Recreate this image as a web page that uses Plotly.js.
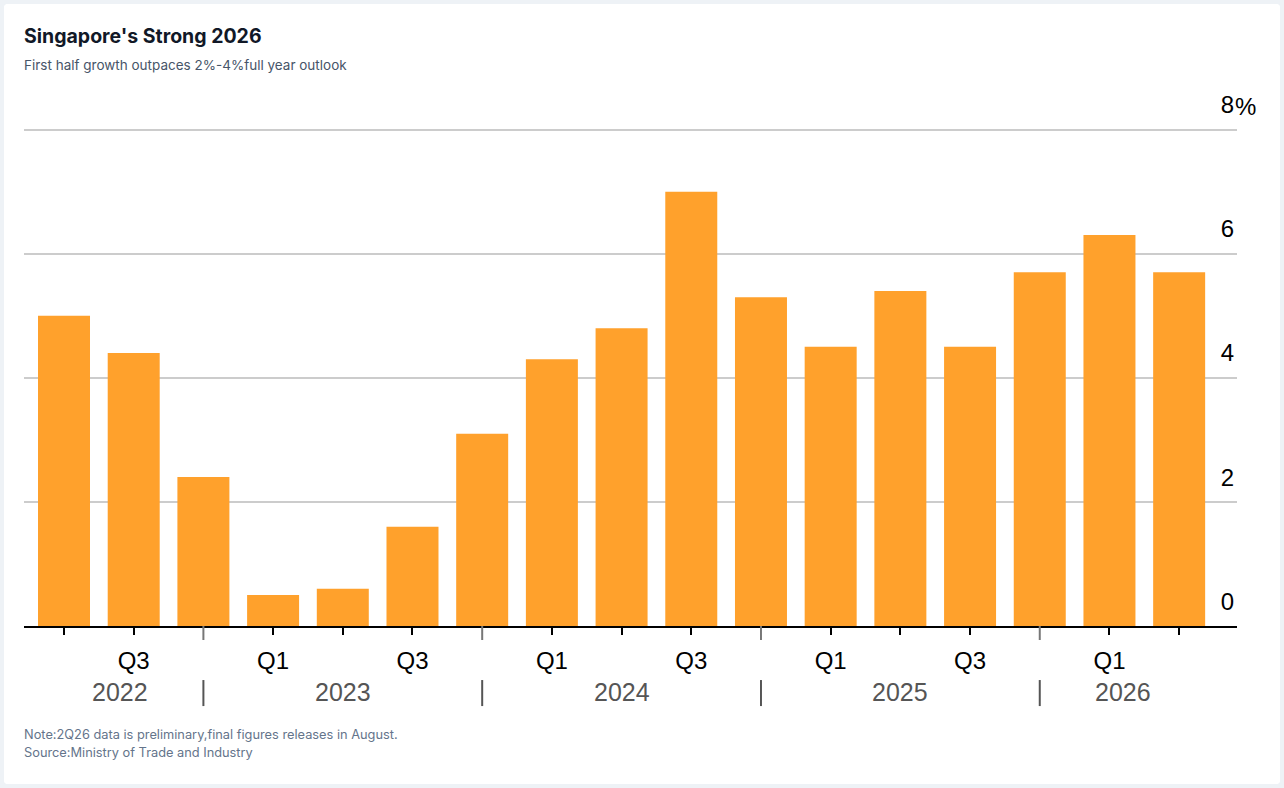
<!DOCTYPE html>
<html>
<head>
<meta charset="utf-8">
<script src="https://cdn.plot.ly/plotly-3.0.1.min.js"></script>
<style>
  body { margin: 0; background: #eef2f6; width: 1284px; height: 788px; overflow: hidden; }
  #figure { position: absolute; left: 4px; top: 4px; width: 1276px; height: 780px; background: #fff; border-radius: 4px; overflow: hidden; }
</style>
</head>
<body>
<div id="figure"></div>
<script>
FIGURE = document.getElementById('figure')

// quarterly GDP growth, y/y %
const quarters = ['Q2 2022', 'Q3 2022', 'Q4 2022',
                  'Q1 2023', 'Q2 2023', 'Q3 2023', 'Q4 2023',
                  'Q1 2024', 'Q2 2024', 'Q3 2024', 'Q4 2024',
                  'Q1 2025', 'Q2 2025', 'Q3 2025', 'Q4 2025',
                  'Q1 2026', 'Q2 2026']
const growth = [5.0, 4.4, 2.4, 0.5, 0.6, 1.6, 3.1, 4.3, 4.8, 7.0, 5.3, 4.5, 5.4, 4.5, 5.7, 6.3, 5.7]
const shownQuarters = ['Q1', 'Q3']
const years = ['2022', '2023', '2024', '2025', '2026']
const yTicks = [0, 2, 4, 6, 8]
const yTickText = ['0', '2', '4', '6', '8']

const ORANGE = '#FFA12C'
const GREY = '#555555'
const AXISFONT = 'Liberation Sans, Arial, sans-serif'

const W = 1276, H = 780
// top of range sits above the 8 line so its label is not clipped
const M = {l: 20, r: 43, t: 76.4, b: 158}
const plotH = H - M.t - M.b
// pixels below the x axis line -> paper y
function py(px) { return -px / plotH }

// ticks on every quarter except Q4; Q4 gets the year divider instead
let tickvals = []
let ticktext = []
let dividers = []
quarters.forEach((q, i) => {
    let qq = q.split(' ')[0]
    if (qq === 'Q4') {
        dividers.push(i)
    } else {
        tickvals.push(q)
        ticktext.push(shownQuarters.includes(qq) ? qq : '')
    }
})

let shapes = []
dividers.forEach(i => {
    shapes.push({type: 'line', xref: 'x', yref: 'paper', x0: i, x1: i, y0: 0, y1: py(14),
                 line: {color: '#777', width: 2}})
    shapes.push({type: 'line', xref: 'x', yref: 'paper', x0: i, x1: i, y0: py(54), y1: py(80),
                 line: {color: GREY, width: 2}})
})

// year labels centred between dividers, clipped to the bars
let lo = -0.4
let hi = quarters.length - 1 + 0.4
let bounds = [lo].concat(dividers).concat([hi])
let annotations = years.map((y, k) => ({
    xref: 'x', yref: 'paper', x: (bounds[k] + bounds[k + 1]) / 2, y: py(66),
    text: y, showarrow: false, xanchor: 'center', yanchor: 'middle',
    font: {family: AXISFONT, size: 25, color: GREY}
}))

// percent sign hangs to the right of the top tick label
annotations.push({xref: 'paper', yref: 'y', x: 1, y: yTicks[yTicks.length - 1], text: '%',
                  showarrow: false, xanchor: 'left', yanchor: 'middle', xshift: -4, yshift: 23,
                  font: {family: AXISFONT, size: 24, color: '#000'}})

function note(text, px, size, color, weight) {
    return {xref: 'paper', yref: 'paper', x: 0, y: py(px), xshift: -2, text: text, showarrow: false,
            xanchor: 'left', yanchor: 'middle', align: 'left',
            font: {family: 'Inter, sans-serif', size: size, color: color, weight: weight || 'normal'}}
}
annotations.push(note("Singapore's Strong 2026", -590, 19.5, '#111827', 'bold'))
annotations.push(note('First half growth outpaces 2%-4%full year outlook', -561, 13.5, '#475569'))
annotations.push(note('Note:2Q26 data is preliminary,final figures releases in August.', 108, 12.8, '#64748b'))
annotations.push(note('Source:Ministry of Trade and Industry', 126, 12.8, '#64748b'))

let trace = {
    type: 'bar',
    x: quarters,
    y: growth,
    marker: {color: ORANGE, line: {width: 0}},
    hoverinfo: 'x+y'
}

let layout = {
    width: W, height: H,
    margin: M,
    paper_bgcolor: '#ffffff', plot_bgcolor: '#ffffff',
    showlegend: false,
    bargap: 0.254,
    font: {family: AXISFONT, color: '#000'},
    xaxis: {
        type: 'category', range: [-0.574, 16.83],
        tickvals: tickvals, ticktext: ticktext,
        ticks: 'outside', ticklen: 7, tickwidth: 2, tickcolor: '#000',
        showline: true, linecolor: '#000', linewidth: 2,
        showgrid: false, ticklabelstandoff: 5,
        tickfont: {size: 24, color: '#000'}
    },
    yaxis: {
        side: 'right', range: [0, 8.8],
        tickvals: yTicks, ticktext: yTickText,
        ticklabelposition: 'inside top', ticklabelshift: -8,
        showgrid: true, gridcolor: '#cccccc', gridwidth: 2,
        zeroline: false, showline: false, ticks: '',
        tickfont: {size: 24, color: '#000'}
    },
    shapes: shapes,
    annotations: annotations
}

Plotly.newPlot(FIGURE, [trace], layout, {displayModeBar: false, staticPlot: true})
</script>
</body>
</html>
